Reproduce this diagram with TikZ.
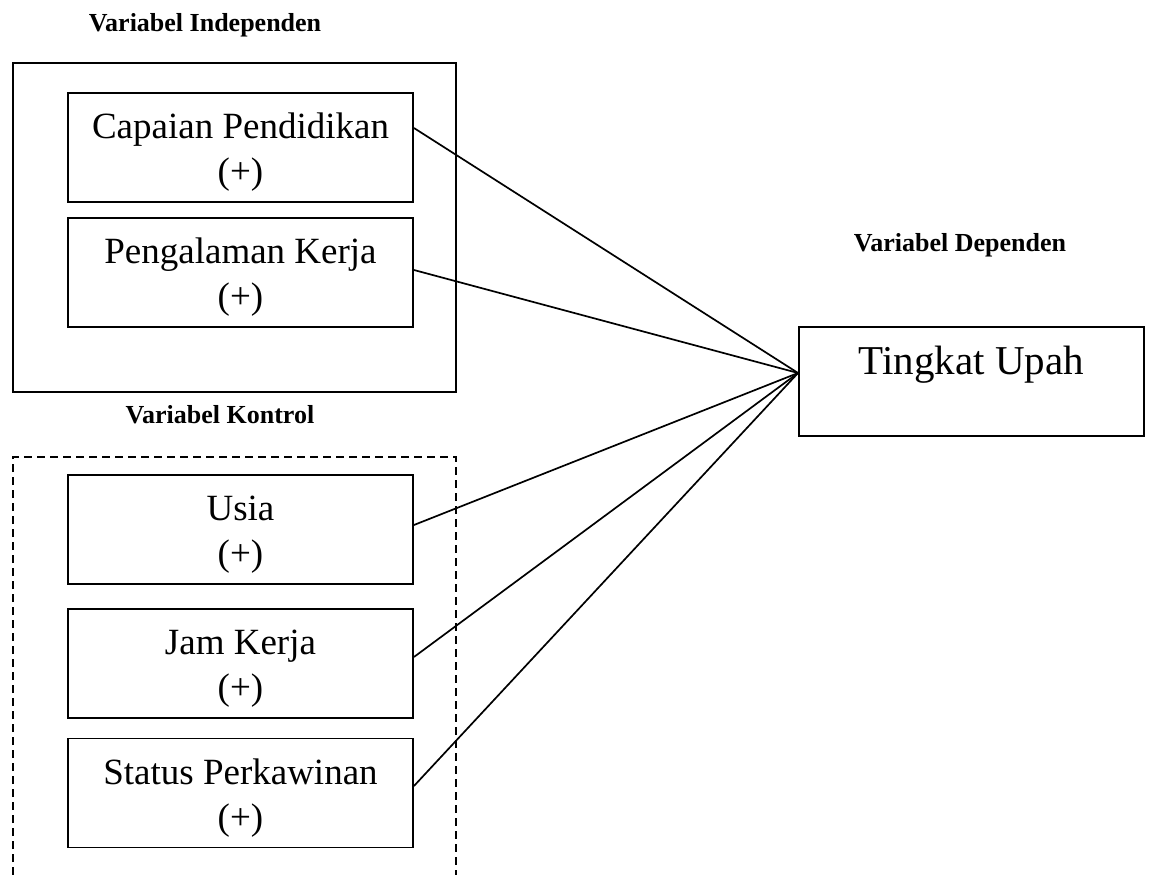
\documentclass[tikz,border=0pt]{standalone}
\usepackage{fontspec}
\setmainfont{Liberation Serif}
\usetikzlibrary{calc}
\begin{document}
\begin{tikzpicture}[x=1pt,y=-1pt,
  varbox/.style={draw,line width=1.9pt,minimum width=345pt,minimum height=109pt,inner sep=0pt},
  vtext/.style={align=center,font=\fontsize{37}{45}\selectfont,yshift=-5pt},
  grouplabel/.style={font=\fontsize{26}{30}\selectfont\bfseries},
  link/.style={line width=1.7pt}]
\useasboundingbox (0,0) rectangle (1152,875);
% groups
\draw[line width=1.9pt] (13,63) rectangle (456,392);
\draw[line width=1.7pt,dash pattern=on 8pt off 5pt] (13,875) -- (13,457) -- (456,457) -- (456,875);
\node[grouplabel] (lind) at (205,25) {Variabel Independen};
\node[grouplabel] (ldep) at (960,245) {Variabel Dependen};
\node[grouplabel] (lkon) at (220,415) {Variabel Kontrol};
% boxes
\node[varbox,label={[vtext]center:Capaian Pendidikan\\(+)}] (cp) at (240.5,147.5) {};
\node[varbox,label={[vtext]center:Pengalaman Kerja\\(+)}] (pk) at (240.5,272.5) {};
\node[varbox,label={[vtext]center:Usia\\(+)}] (us) at (240.5,529.5) {};
\node[varbox,label={[vtext]center:Jam Kerja\\(+)}] (jk) at (240.5,663.5) {};
\node[varbox,label={[vtext]center:Status Perkawinan\\(+)}] (sp) at (240.5,793) {};
\node[varbox] (tu) at (971.5,381.5) {};
\node[font=\fontsize{41}{48}\selectfont] (tut) at (971.5,365) {Tingkat Upah};
\coordinate (hub) at ($(tu.west)+(0,-8.5)$);
% links
\draw[link] ($(cp.east)+(0,-19.5)$) -- (hub);
\draw[link] ($(pk.east)+(0,-2.5)$) -- (hub);
\draw[link] ($(us.east)+(0,-4.5)$) -- (hub);
\draw[link] ($(jk.east)+(0,-6.5)$) -- (hub);
\draw[link] ($(sp.east)+(0,-7)$) -- (hub);
\end{tikzpicture}
\end{document}
